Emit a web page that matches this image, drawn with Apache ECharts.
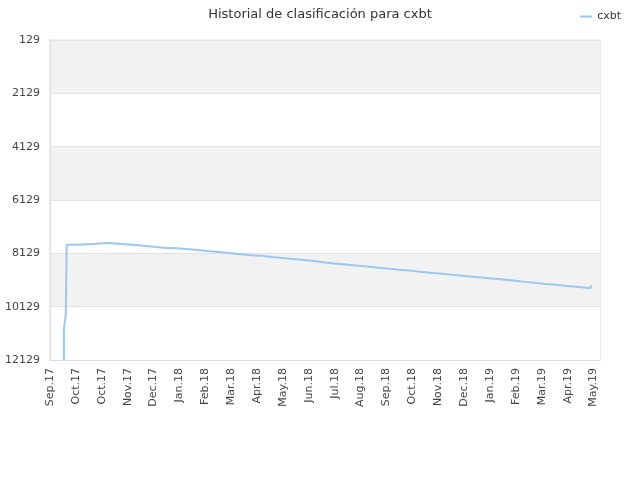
<!DOCTYPE html>
<html>
<head>
<meta charset="utf-8">
<script src="https://cdn.jsdelivr.net/npm/echarts@6/dist/echarts.min.js"></script>
<style>html,body{margin:0;padding:0;background:#fff}#c{width:640px;height:480px}</style>
</head>
<body>
<div id="c"></div>
<script>
var titleText = 'Historial de clasificación para cxbt';
var seriesName = 'cxbt';
// x tick labels, one every 28 days
var tickLabels = ['Sep.17','Oct.17','Oct.17','Nov.17','Dec.17','Jan.18','Feb.18','Mar.18','Apr.18','May.18','Jun.18','Jul.18','Aug.18','Sep.18','Oct.18','Nov.18','Dec.18','Jan.19','Feb.19','Mar.19','Apr.19','May.19'];
// day offsets where the rank changes
var days = [15,15,17,18,28,46,62,78,93,107,122,137,151,162,173,185,196,207,218,229,240,252,263,275,286,297,308,320,331,343,353,364,376,388,398,409,421,432,444,455,467,478,490,501,512,524,534,546,557,569,580,585];
// rank values
var ranks = [12129,10971,10463,7806,7776,7738,7776,7814,7863,7916,7939,7976,8014,8052,8090,8128,8166,8204,8215,8268,8306,8344,8382,8420,8469,8507,8545,8583,8621,8659,8697,8735,8772,8810,8848,8886,8924,8962,9000,9038,9076,9114,9152,9190,9228,9266,9304,9342,9380,9417,9441,9328];

var data = days.map(function(d,i){return [d, ranks[i]];});
var chart = echarts.init(document.getElementById('c'));
chart.setOption({
  animation:false,
  backgroundColor:'#fff',
  title:{text:titleText,left:'center',top:3,textStyle:{fontSize:13,fontWeight:'normal',color:'#333',fontFamily:'DejaVu Sans'}},
  legend:{right:14,top:6,itemWidth:12,itemHeight:2,icon:'rect',itemGap:5,textStyle:{fontSize:11,color:'#333',fontFamily:'DejaVu Sans'},data:[seriesName]},
  grid:{left:50,right:40,top:40,bottom:120,show:true,borderColor:'#dcdcdc',borderWidth:1,backgroundColor:'transparent'},
  xAxis:{type:'value',min:0,max:595,interval:28,
    axisLine:{show:true,lineStyle:{color:'#dcdcdc'}},
    axisTick:{show:false},
    splitLine:{show:false},
    axisLabel:{rotate:90,fontSize:11,color:'#444',fontFamily:'DejaVu Sans',margin:8,
      formatter:function(v){var i=v/28; return (i===Math.round(i)&&tickLabels[i])?tickLabels[i]:'';}}
  },
  yAxis:{type:'value',inverse:true,min:129,max:12129,interval:2000,
    axisLine:{show:true,lineStyle:{color:'#dcdcdc'}},
    axisTick:{show:false},
    axisLabel:{fontSize:11,color:'#444',fontFamily:'DejaVu Sans',margin:10,formatter:function(v){return String(v);}},
    splitLine:{show:true,lineStyle:{color:'#e3e3e3'}},
    splitArea:{show:true,areaStyle:{color:['#f2f2f2','#ffffff']}}
  },
  series:[{name:seriesName,type:'line',step:'end',data:data,showSymbol:false,symbol:'none',
    lineStyle:{color:'#99c8f4',width:2},itemStyle:{color:'#99c8f4'}}]
});
</script>
</body>
</html>
